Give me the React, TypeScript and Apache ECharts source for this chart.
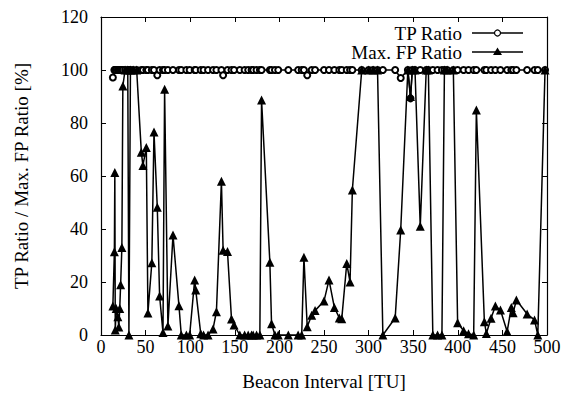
import React, { useEffect, useRef } from "react";
import * as echarts from "echarts";

const beaconIntervals = [
  13.3, 15, 15.5, 16, 17, 18.9, 20, 21, 22, 23.4, 24.5, 27, 30, 31.3, 33, 36, 40,
  45.2, 47, 50.8, 52.6, 57, 59.4, 63.1, 65.7, 69.5, 71.3, 75, 80.7, 87.4, 90, 95.7,
  99.4, 105, 106.2, 111.8, 115, 120, 125.6, 129.4, 135, 136.9, 141.8, 146.3, 149.2,
  155.6, 161, 165, 168.8, 170.6, 174.4, 178.1, 180, 189.3, 191.2, 195, 198.7, 210,
  221, 225, 227.5, 231.2, 236.2, 240, 250, 255.6, 261.6, 267.2, 269.9, 275.5, 279.2,
  281.8, 292.3, 300, 305, 310, 316, 329.8, 336, 344, 347, 349, 352, 357.9, 364.6,
  367, 372, 377.3, 382.2, 385, 388, 395, 399.8, 406.5, 412, 417.8, 420.8, 429.8, 432,
  437.3, 442.1, 447.8, 455.3, 460, 462, 465.7, 477.7, 486, 489.7, 497.8,
];

const tpRatio = [
  97.2, 100, 100, 100, 100, 100, 100, 100, 100, 100, 100, 100, 100, 100, 100, 100, 100,
  100, 100, 100, 100, 100, 100, 98, 100, 100, 100, 100, 100, 100, 100, 100,
  100, 100, 100, 100, 100, 100, 100, 100, 100, 98, 100, 100, 100,
  100, 100, 100, 100, 100, 100, 100, 100, 100, 100, 100, 100, 100,
  100, 100, 100, 98, 100, 100, 100, 100, 100, 100, 100, 100, 100,
  100, 100, 100, 100, 100, 100, 100, 97, 100, 89.3, 100, 100, 100, 100,
  100, 100, 100, 100, 100, 100, 100, 100, 100, 100, 100, 100, 100, 100,
  100, 100, 100, 100, 100, 100, 100, 100, 100, 100, 100,
];

const maxFpRatio = [
  10.9, 31.4, 61.3, 1.9, 10, 6.9, 3, 10, 19, 33, 94, 100, 100, 0, 100, 100, 100,
  69, 64, 70.8, 8.3, 27.3, 76.6, 48.2, 14.7, 0.9, 92.7, 3.4, 37.7, 11, 0, 0,
  0, 20.8, 17, 0.5, 0, 0, 2.3, 8.8, 58, 32, 31.5, 6, 3.8,
  0, 0, 0, 0, 0, 0, 0, 88.7, 27.5, 4.2, 0, 0, 0,
  0, 0, 29.3, 3.1, 7.5, 9.2, 12.8, 20.8, 10.4, 6.4, 6.1, 27, 20,
  54.7, 100, 100, 100, 100, 0, 6.4, 39.6, 100, 90, 100, 100, 41, 100,
  100, 0, 0, 0, 100, 100, 100, 4.6, 1.6, 0.5, 0, 84.9, 5, 0.6,
  6.3, 10.9, 9.4, 1.3, 10.4, 8.4, 13.2, 7.9, 5.7, 0, 100,
];

const seriesNames = ["TP Ratio", "Max. FP Ratio"];
const xTicks = { min: 0, max: 500, interval: 50 };
const yTicks = { min: 0, max: 120, interval: 20 };

const FONT = "'Liberation Serif', 'Times New Roman', serif";

export default function App() {
  const ref = useRef<HTMLDivElement>(null);
  useEffect(() => {
    document.body.style.margin = "0";
    if (!ref.current) return;
    const chart = echarts.init(ref.current, undefined, { renderer: "svg" });
    const tpData = beaconIntervals.map((x, i) => [x, tpRatio[i]]);
    const fpData = beaconIntervals.map((x, i) => [x, maxFpRatio[i]]);
    const axisLine = { show: true, onZero: false, lineStyle: { color: "#000", width: 1.2 } };
    const tick = { show: true, inside: true, length: 5, lineStyle: { color: "#000", width: 1 } };
    const tickLabel = { fontFamily: FONT, fontSize: 18, color: "#000" };
    const nameLabel = { fontFamily: FONT, fontSize: 19, color: "#000" };
    const legendRows = [33, 52];
    const lx0 = 472;
    const lx1 = 523;
    const lxm = (lx0 + lx1) / 2;
    const graphic: any[] = [];
    seriesNames.forEach((n, i) => {
      const y = legendRows[i];
      graphic.push({
        type: "text",
        x: 462,
        y,
        style: { text: n, font: `19px ${FONT}`, fill: "#000", align: "right", verticalAlign: "middle" },
      });
      graphic.push({
        type: "line",
        shape: { x1: lx0, y1: y, x2: lx1, y2: y },
        style: { stroke: "#000", lineWidth: 1.5 },
      });
      if (i === 0) {
        graphic.push({
          type: "circle",
          shape: { cx: lxm, cy: y, r: 3 },
          style: { fill: "#fff", stroke: "#000", lineWidth: 1.2 },
        });
      } else {
        graphic.push({
          type: "polygon",
          shape: { points: [[lxm, y - 4.5], [lxm + 4.5, y + 3], [lxm - 4.5, y + 3]] },
          style: { fill: "#000" },
        });
      }
    });
    chart.setOption({
      animation: false,
      backgroundColor: "#fff",
      grid: { left: 101, right: 26, top: 17, bottom: 59, containLabel: false, outerBoundsMode: "none" },
      graphic,
      xAxis: [
        {
          type: "value",
          position: "bottom",
          ...xTicks,
          axisLine,
          axisTick: tick,
          axisLabel: { ...tickLabel, margin: 3 },
          splitLine: { show: false },
          name: "Beacon Interval [TU]",
          nameLocation: "middle",
          nameGap: 37,
          nameTextStyle: nameLabel,
        },
        {
          type: "value",
          position: "top",
          ...xTicks,
          axisLine,
          axisTick: tick,
          axisLabel: { show: false },
          splitLine: { show: false },
        },
      ],
      yAxis: [
        {
          type: "value",
          position: "left",
          ...yTicks,
          axisLine,
          axisTick: tick,
          axisLabel: { ...tickLabel, margin: 13 },
          splitLine: { show: false },
          name: "TP Ratio / Max. FP Ratio [%]",
          nameLocation: "middle",
          nameGap: 70,
          nameTextStyle: nameLabel,
        },
        {
          type: "value",
          position: "right",
          ...yTicks,
          axisLine,
          axisTick: tick,
          axisLabel: { show: false },
          splitLine: { show: false },
        },
      ],
      series: [
        {
          name: seriesNames[0],
          type: "line",
          data: tpData,
          symbol: "emptyCircle",
          symbolSize: 6,
          showAllSymbol: true,
          lineStyle: { color: "#000", width: 1.5 },
          itemStyle: { color: "#000", borderColor: "#000", borderWidth: 1.2 },
        },
        {
          name: seriesNames[1],
          type: "line",
          data: fpData,
          symbol: "triangle",
          symbolSize: 9,
          showAllSymbol: true,
          lineStyle: { color: "#000", width: 1.5 },
          itemStyle: { color: "#000" },
        },
      ],
    });
    return () => chart.dispose();
  }, []);
  return <div ref={ref} style={{ width: 573, height: 394 }} />;
}
